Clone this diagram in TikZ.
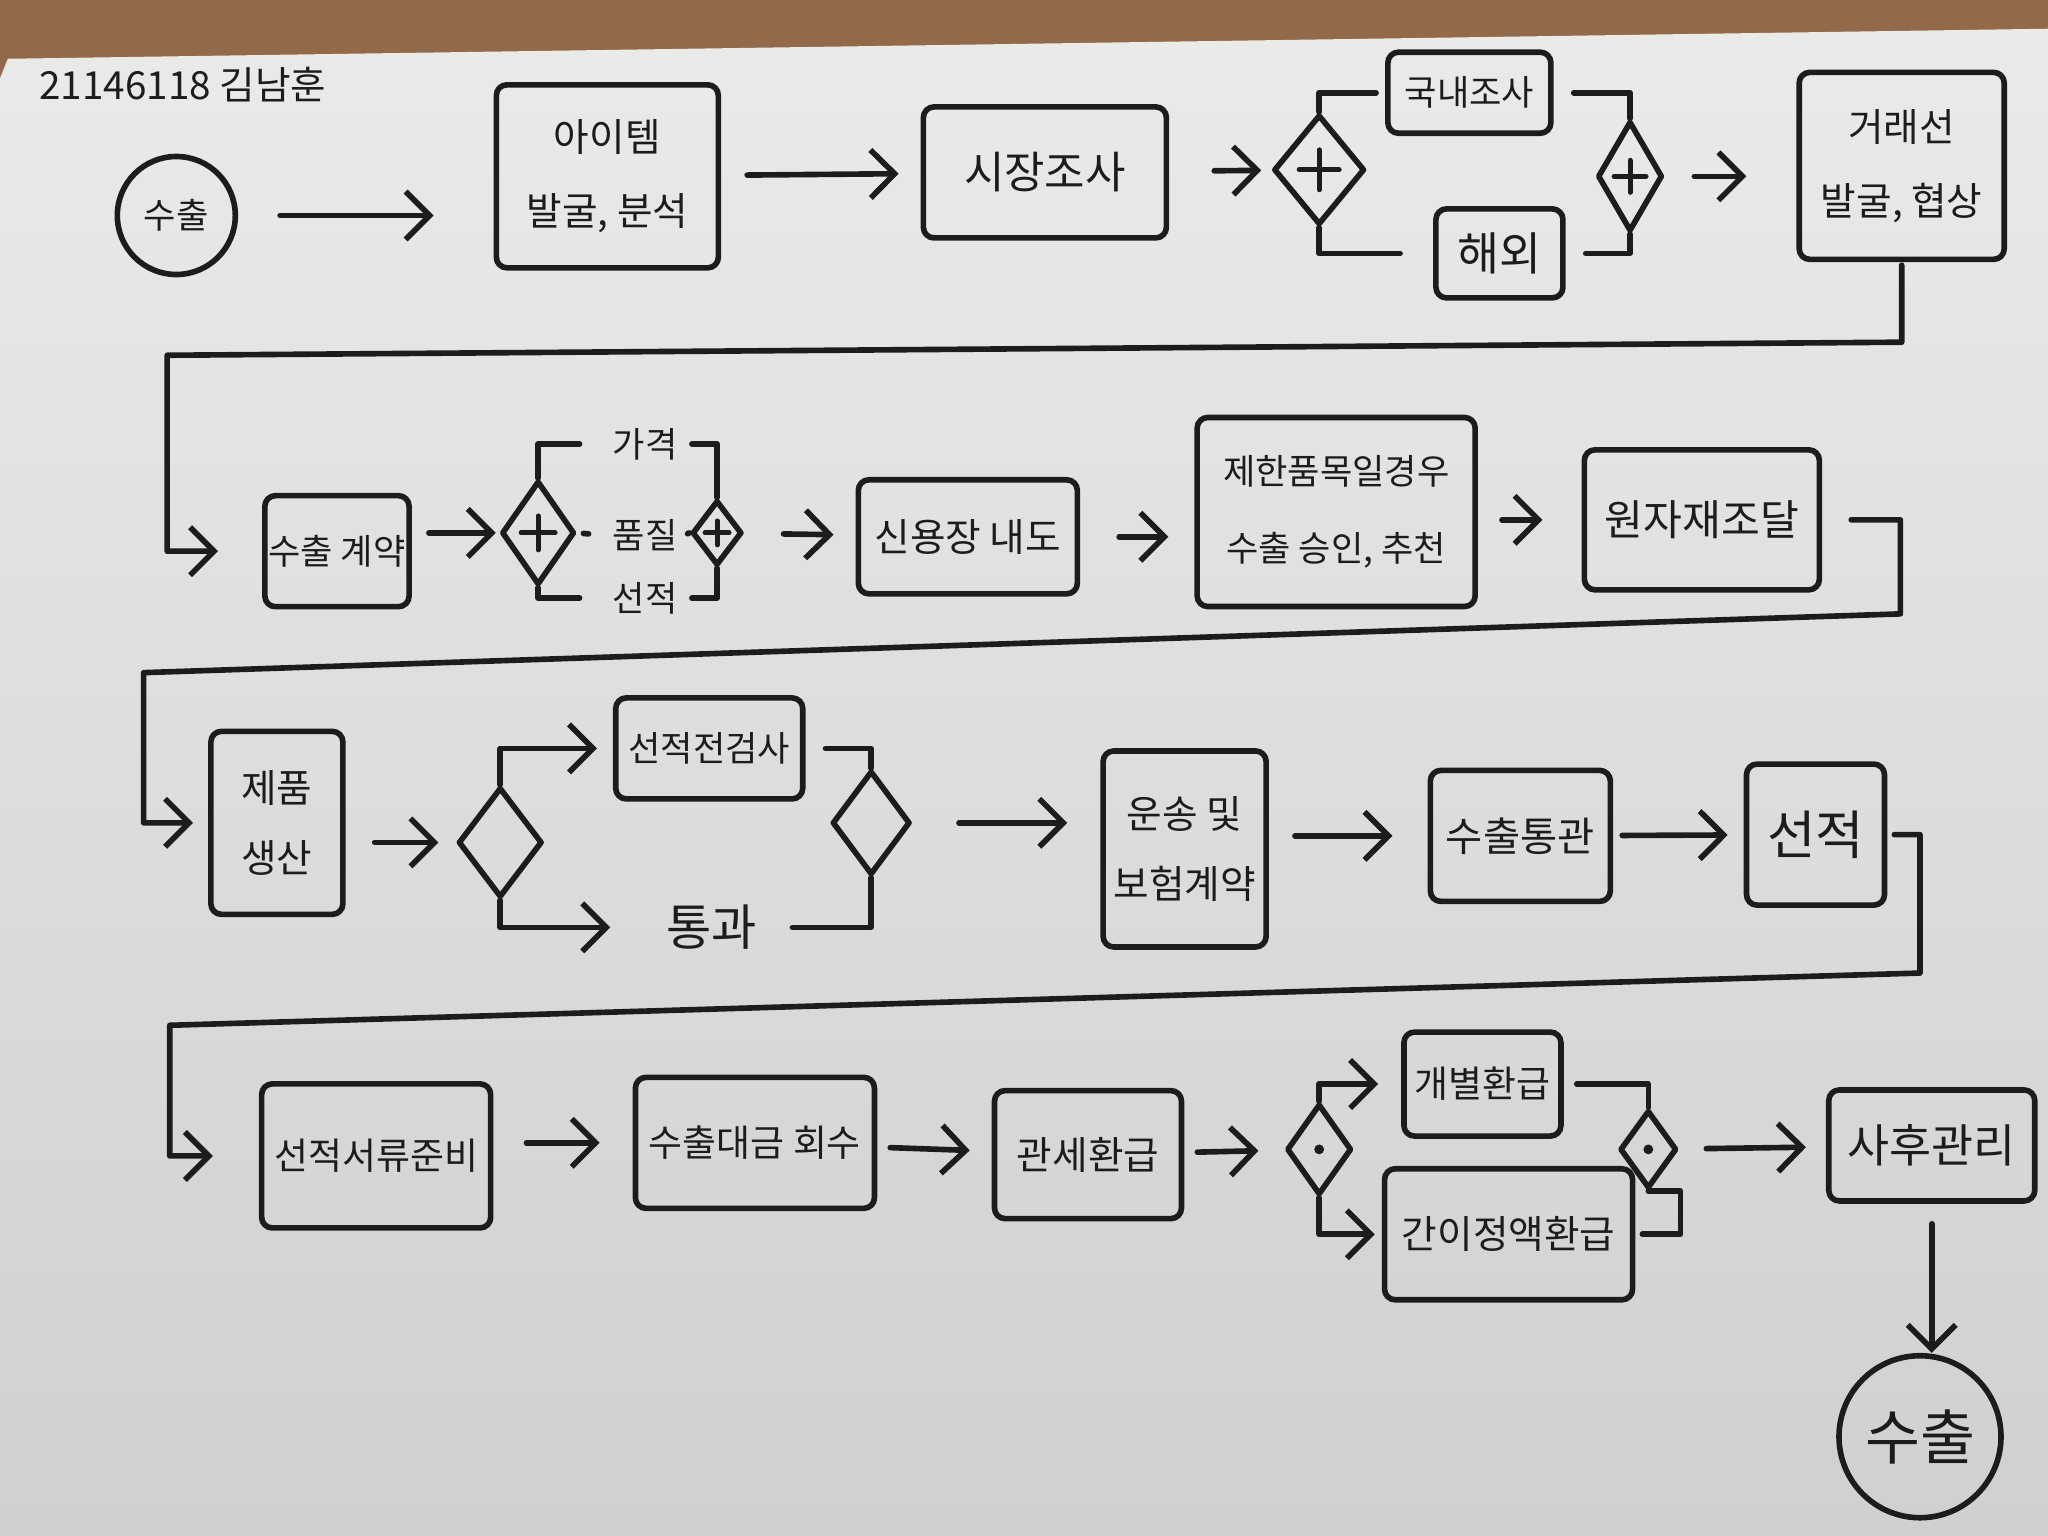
\documentclass[tikz,border=0pt]{standalone}
\usepackage{fontspec}
\setmainfont{Noto Sans CJK KR}
\usetikzlibrary{arrows.meta,shapes.geometric}
\definecolor{PInk}{RGB}{28,28,28}
\definecolor{PPaperTop}{RGB}{234,234,232}
\definecolor{PPaperLow}{RGB}{208,208,206}
\definecolor{PWood}{RGB}{146,106,74}

\begin{document}
\begin{tikzpicture}[x=0.013061cm,y=-0.013061cm,
    line width=1.6pt,color=PInk,line cap=round,line join=round,
    task/.style={draw,rounded corners=3pt,align=center,inner sep=1pt,
      font=\fontsize{11}{15}\selectfont},
    gate/.style={draw,diamond,inner sep=0pt},
    plusgate/.style={gate,path picture={
        \draw[line width=1.4pt] ([yshift=-#1]path picture bounding box.center)
          -- ([yshift=#1]path picture bounding box.center);
        \draw[line width=1.4pt] ([xshift=-#1]path picture bounding box.center)
          -- ([xshift=#1]path picture bounding box.center);}},
    plusgate/.default=0.2cm,
    dotgate/.style={gate,path picture={
        \fill (path picture bounding box.center) circle (1.4pt);}},
    event/.style={draw,circle,inner sep=0pt},
    branch/.style={inner sep=1pt,font=\fontsize{10}{12}\selectfont},
    flow/.style={-{Straight Barb[length=2.4mm,width=4.8mm]},
      shorten <=0.3cm,shorten >=0.3cm},
    link/.style={shorten <=0.15cm,shorten >=0.15cm}]
  \useasboundingbox (0,0) rectangle (1568,1176);
  \fill[PWood] (0,0) rectangle (1568,1176);
  \shade[top color=PPaperTop,bottom color=PPaperLow]
    (6,45) -- (1568,22) -- (1568,1176) -- (0,1176) -- (0,60) -- cycle;

  % row 1
  \node[font=\fontsize{11}{13}\selectfont] (title) at (140,65) {21146118 김남훈};
  \node[event,minimum size=1.18cm,font=\fontsize{10}{12}\selectfont] (start) at (135,165) {수출};
  \node[task,minimum width=2.22cm,minimum height=1.83cm] (idea) at (465,135) {아이템\\[6pt]발굴, 분석};
  \node[task,minimum width=2.43cm,minimum height=1.31cm,font=\fontsize{12.5}{15}\selectfont] (market) at (800,132) {시장조사};
  \node[plusgate,minimum width=0.91cm,minimum height=1.10cm] (g1) at (1010,130) {};
  \node[task,minimum width=1.63cm,minimum height=0.81cm,font=\fontsize{10}{12}\selectfont] (dom) at (1125,71) {국내조사};
  \node[task,minimum width=1.27cm,minimum height=0.89cm,font=\fontsize{13}{15}\selectfont] (abroad) at (1148,194) {해외};
  \node[plusgate=0.16cm,minimum width=0.65cm,minimum height=1.10cm] (g2) at (1248,135) {};
  \node[task,minimum width=2.05cm,minimum height=1.87cm] (partner) at (1456,127) {거래선\\[6pt]발굴, 협상};

  \draw[flow,shorten <=0.42cm,shorten >=0.6cm] (start.east) -- (start.east -| idea.west);
  \draw[flow,shorten <=0.26cm,shorten >=0.22cm] (idea) -- (market);
  \draw[flow,shorten <=0.45cm,shorten >=0.1cm] (market) -- (g1);
  \draw[link,shorten <=0pt,shorten >=0.09cm] (g1.north) |- (dom.west);
  \draw[link,shorten <=0pt,shorten >=0.33cm] (g1.south) |- (abroad.west);
  \draw[link,shorten <=0.2cm,shorten >=0pt] (dom.east) -| (g2.north);
  \draw[link,shorten <=0.2cm,shorten >=0pt] (abroad.east) -| (g2.south);
  \draw[flow,shorten <=0.29cm,shorten >=0.5cm] (g2.east) -- (g2.east -| partner.west);

  % row 1 to row 2
  \coordinate (t1) at (1456,262);
  \coordinate (t2) at (128,272);

  % row 2
  \node[task,minimum width=1.40cm,minimum height=1.11cm,font=\fontsize{10}{12}\selectfont] (contract) at (258,422) {수출 계약};
  \node[plusgate=0.17cm,minimum width=0.73cm,minimum height=1.04cm] (g3) at (412,408) {};
  \node[branch] (price) at (494,340) {가격};
  \node[branch] (quality) at (494,410) {품질};
  \node[branch] (ship1) at (494,458) {선적};
  \node[plusgate=0.12cm,minimum width=0.50cm,minimum height=0.65cm] (g4) at (549,408) {};
  \node[task,minimum width=2.19cm,minimum height=1.14cm] (lc) at (741,411) {신용장 내도};
  \node[task,minimum width=2.78cm,minimum height=1.89cm,font=\fontsize{10}{16}\selectfont] (approve) at (1023,392) {제한품목일경우\\[6pt]수출 승인, 추천};
  \node[task,minimum width=2.35cm,minimum height=1.40cm,font=\fontsize{12}{15}\selectfont] (material) at (1303,398) {원자재조달};

  \draw[flow,shorten <=0.03cm,shorten >=0.44cm] (partner.south) -- (t1) -- (t2)
    -- (t2 |- contract.west) -- (contract.west);
  \draw[flow,shorten <=0.17cm,shorten >=0.03cm] (g3.west -| contract.east) -- (g3.west);
  \draw[link,shorten <=0pt,shorten >=0.27cm] (g3.north) |- (price.west);
  \draw[link,shorten <=0.06cm,shorten >=0.18cm] (g3.east) -- (quality.west);
  \draw[link,shorten <=0pt,shorten >=0.27cm] (g3.south) |- (ship1.west);
  \draw[link,shorten <=0.08cm,shorten >=0pt] (price.east) -| (g4.north);
  \draw[link,shorten <=0.04cm,shorten >=0pt] (quality.east) -- (g4.west);
  \draw[link,shorten <=0.08cm,shorten >=0pt] (ship1.east) -| (g4.south);
  \draw[flow,shorten <=0.39cm,shorten >=0.22cm] (g4) -- (lc);
  \draw[flow,shorten <=0.39cm,shorten >=0.26cm] (lc.east) -- (lc.east -| approve.west);
  \draw[flow,shorten <=0.24cm,shorten >=0.39cm] (material.west -| approve.east) -- (material.west);

  % row 2 to row 3
  \coordinate (t3) at (1455,470);
  \coordinate (t4) at (110,515);

  % row 3
  \node[task,minimum width=1.32cm,minimum height=1.83cm,font=\fontsize{11}{20}\selectfont] (produce) at (212,630) {제품\\생산};
  \node[gate,minimum width=0.84cm,minimum height=1.10cm] (g5) at (383,645) {};
  \node[task,minimum width=1.87cm,minimum height=1.01cm,font=\fontsize{10}{12}\selectfont] (inspect) at (543,573) {선적전검사};
  \node[branch,font=\fontsize{14}{16}\selectfont] (pass) at (545,710) {통과};
  \node[gate,minimum width=0.78cm,minimum height=1.04cm] (g6) at (667,630) {};
  \node[task,minimum width=1.63cm,minimum height=1.96cm,font=\fontsize{11}{20}\selectfont] (insure) at (907,650) {운송 및\\보험계약};
  \node[task,minimum width=1.80cm,minimum height=1.31cm,font=\fontsize{11.5}{14}\selectfont] (clear) at (1164,640) {수출통관};
  \node[task,minimum width=1.38cm,minimum height=1.41cm,font=\fontsize{15}{18}\selectfont] (ship) at (1390,639) {선적};

  \draw[flow,shorten <=0.29cm,shorten >=0.15cm] (material.east) -- (material.east -| t3) -- (t3)
    -- (t4) -- (t4 |- produce.west) -- (produce.west);
  \draw[flow,shorten <=0.29cm,shorten >=0.17cm] (g5.west -| produce.east) -- (g5.west);
  \draw[flow,shorten <=0pt,shorten >=0.16cm] (g5.north) |- (inspect.west);
  \draw[flow,shorten <=0pt,shorten >=0.5cm] (g5.south) |- (pass.west);
  \draw[link,shorten <=0.2cm,shorten >=0pt] (inspect.east) -| (g6.north);
  \draw[link,shorten <=0.29cm,shorten >=0pt] (pass.east) -| (g6.south);
  \draw[flow,shorten <=0.46cm,shorten >=0.33cm] (g6.east) -- (g6.east -| insure.west);
  \draw[flow,shorten <=0.26cm,shorten >=0.35cm] (clear.west -| insure.east) -- (clear.west);
  \draw[flow,shorten <=0.09cm,shorten >=0.16cm] (clear) -- (ship);

  % row 3 to row 4
  \coordinate (t5) at (1470,745);
  \coordinate (t6) at (130,785);

  % row 4
  \node[task,minimum width=2.29cm,minimum height=1.44cm,font=\fontsize{10.5}{13}\selectfont] (docs) at (288,885) {선적서류준비};
  \node[task,minimum width=2.39cm,minimum height=1.31cm,font=\fontsize{10.5}{13}\selectfont] (collect) at (578,875) {수출대금 회수};
  \node[task,minimum width=1.87cm,minimum height=1.28cm] (refund) at (833,884) {관세환급};
  \node[dotgate,minimum width=0.65cm,minimum height=0.91cm] (g7) at (1010,880) {};
  \node[task,minimum width=1.57cm,minimum height=1.04cm,font=\fontsize{10.5}{13}\selectfont] (indiv) at (1135,830) {개별환급};
  \node[task,minimum width=2.48cm,minimum height=1.31cm] (simple) at (1155,945) {간이정액환급};
  \node[dotgate,minimum width=0.57cm,minimum height=0.78cm] (g8) at (1262,880) {};
  \node[task,minimum width=2.06cm,minimum height=1.11cm,font=\fontsize{13}{15}\selectfont] (after) at (1479,877) {사후관리};
  \node[event,minimum size=1.62cm,font=\fontsize{17}{20}\selectfont] (finish) at (1470,1100) {수출};

  \draw[flow,shorten <=0.07cm,shorten >=0.46cm] (ship.east) -- (ship.east -| t5) -- (t5)
    -- (t6) -- (t6 |- docs.west) -- (docs.west);
  \draw[flow,shorten <=0.33cm,shorten >=0.33cm] (collect.west -| docs.east) -- (collect.west);
  \draw[flow,shorten <=0.13cm,shorten >=0.22cm] (collect) -- (refund);
  \draw[flow,shorten <=0.13cm,shorten >=0.26cm] (refund) -- (g7);
  \draw[flow,shorten <=0pt,shorten >=0.23cm] (g7.north) |- (indiv.west);
  \draw[flow,shorten <=0pt,shorten >=0.07cm] (g7.south) |- (simple.west);
  \draw[link,shorten <=0.13cm,shorten >=0pt] (indiv.east) -| (g8.north);
  \draw[link,shorten <=0.07cm,shorten >=0pt] (simple.east) -- ++(0.45cm,0) |- (g8.south);
  \draw[flow,shorten <=0.27cm,shorten >=0.2cm] (g8) -- (after);
  \draw[flow,shorten <=0.2cm,shorten >=0pt] (after.south) -- (after.south |- finish.north);
\end{tikzpicture}
\end{document}
